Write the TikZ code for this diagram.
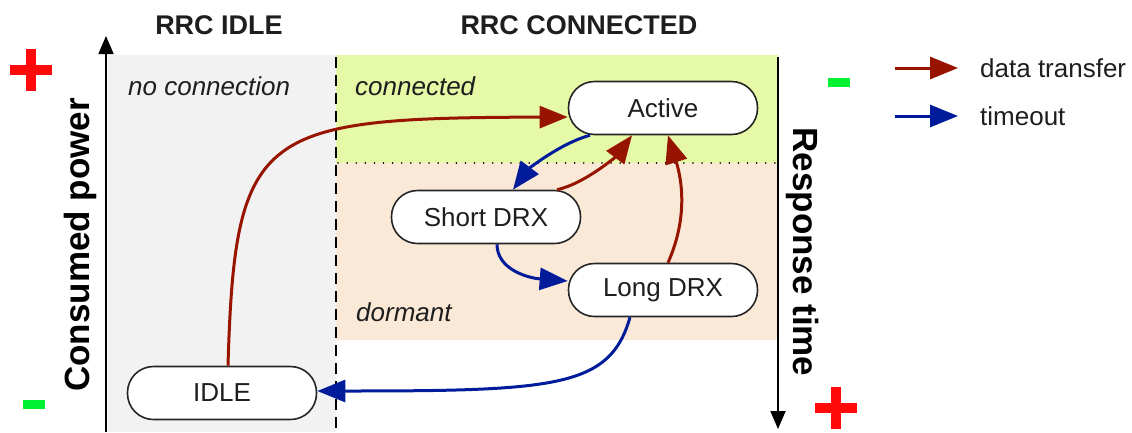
\documentclass[tikz,border=0pt]{standalone}
\usepackage{fontspec}
\setmainfont{Liberation Sans}
\usetikzlibrary{arrows.meta}
\definecolor{dred}{RGB}{150,20,0}
\definecolor{dblue}{RGB}{0,28,155}
\definecolor{greenbg}{RGB}{230,249,166}
\definecolor{peachbg}{RGB}{251,233,216}
\definecolor{greybg}{RGB}{242,242,242}
\definecolor{txt}{RGB}{30,30,30}
\definecolor{plusred}{RGB}{255,10,10}
\definecolor{minusgreen}{RGB}{0,240,50}
\tikzset{
  st/.style={draw=black!85, line width=1.6pt, fill=white, rounded corners=26pt,
    minimum width=189pt, minimum height=53pt, inner sep=0pt, text=txt,
    font=\fontsize{26}{31}\selectfont},
  dt/.style={draw=dred, line width=3pt, -{Triangle[length=28pt,width=22pt]}},
  tmo/.style={draw=dblue, line width=3pt, -{Triangle[length=28pt,width=22pt]}},
  axisline/.style={draw=black, line width=1.8pt, -{Triangle[length=18pt,width=15pt]}},
  title/.style={font=\bfseries\fontsize{27}{32}\selectfont, text=txt},
  zone/.style={font=\itshape\fontsize{26}{31}\selectfont, text=txt, anchor=west, inner sep=0pt},
  axlabel/.style={font=\bfseries\fontsize{35}{40}\selectfont, text=black},
  legtext/.style={font=\fontsize{26}{31}\selectfont, text=txt, anchor=west, inner sep=0pt},
}
\begin{document}
\begin{tikzpicture}[x=1pt,y=-1pt]
\useasboundingbox (0,0) rectangle (1132,432);
% backgrounds
\fill[greybg] (108,55) rectangle (336,432);
\fill[greenbg] (336,55) rectangle (778,163);
\fill[peachbg] (336,163) rectangle (778,340);
\draw[line width=1.8pt, dash pattern=on 11pt off 7pt] (336,57) -- (336,432);
\draw[line width=1.5pt, line cap=round, dash pattern=on 0.1pt off 9pt] (338,163) -- (778,163);
% axes
\coordinate (lbot) at (106,432);
\coordinate (ltop) at (106,36);
\coordinate (rtop) at (778,57);
\coordinate (rbot) at (778,429);
\draw[axisline] (lbot) -- (ltop);
\draw[axisline] (rtop) -- (rbot);
% titles
\node[title] (t1) at (219,25) {RRC IDLE};
\node[title] (t2) at (579,25) {RRC CONNECTED};
\node[zone] (z1) at (128,86) {no connection};
\node[zone] (z2) at (355,86) {connected};
\node[zone] (z3) at (356,312) {dormant};
\node[axlabel, rotate=90] (cp) at (80,245) {Consumed power};
\node[axlabel, rotate=-90] (rt) at (803,252) {Response time};
% plus / minus
\fill[plusred] (10,65) rectangle (52,75);
\fill[plusred] (26,49) rectangle (36,91);
\fill[plusred] (815,403) rectangle (857,413);
\fill[plusred] (831,387) rectangle (841,429);
\fill[minusgreen] (23,400) rectangle (45,409);
\fill[minusgreen] (828,78) rectangle (850,87);
% states
\node[st] (active) at (663,108) {Active};
\node[st] (short) at (486,217) {Short DRX};
\node[st] (long) at (663,290) {Long DRX};
\node[st] (idle) at (222,393) {IDLE};
% transitions
\draw[dt] ([xshift=6pt]idle.north) .. controls +(7,-237) and +(-309,1) .. ([yshift=-9pt]active.west);
\draw[tmo] ([xshift=-73pt]active.south) .. controls +(-30,8) and +(15,-20) .. ([xshift=27pt]short.north);
\draw[dt] ([xshift=71pt]short.north) .. controls +(28,-6) and +(-15,20) .. ([xshift=-31pt]active.south);
\draw[dt] ([xshift=5pt]long.north) .. controls +(20,-45) and +(14,45) .. ([xshift=5pt]active.south);
\draw[tmo] ([xshift=11pt]short.south) .. controls +(0,25) and +(-40,-3) .. ([yshift=9pt]long.west);
\draw[tmo] ([xshift=-33pt]long.south) .. controls +(-20,70) and +(240,0) .. ([yshift=2pt]idle.east);
% legend
\coordinate (la1) at (895,68);
\coordinate (lb1) at (958,68);
\coordinate (la2) at (895,116);
\coordinate (lb2) at (958,116);
\draw[dt] (la1) -- (lb1);
\draw[tmo] (la2) -- (lb2);
\node[legtext] (lt1) at (980,68) {data transfer};
\node[legtext] (lt2) at (980,116) {timeout};
\end{tikzpicture}
\end{document}
